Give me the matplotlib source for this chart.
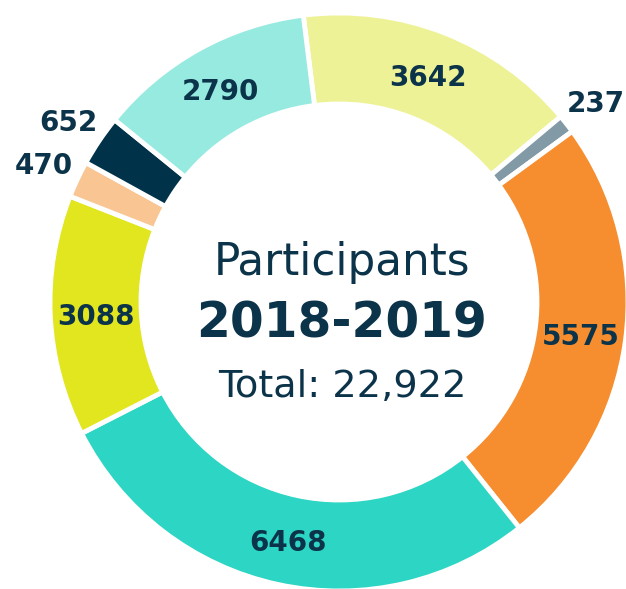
import numpy as np
import matplotlib.pyplot as plt

values = [3642, 237, 5575, 6468, 3088, 470, 652, 2790]
labels = ["3642", "237", "5575", "6468", "3088", "470", "652", "2790"]
colors = ["#EEF296", "#8299A6", "#F68D2E", "#2DD5C4",
          "#E1E61E", "#F9C593", "#003349", "#97EAE0"]
outside = [False, True, False, False, False, True, True, False]
title_lines = ["Participants", "2018-2019", "Total: 22,922"]

navy = "#0B3349"
W, H = 626, 589
cx, cy = 339, H - 302
r_out, r_in = 289, 198
start = 97.1

fig = plt.figure(figsize=(W / 100, H / 100), dpi=100)
ax = fig.add_axes([0, 0, 1, 1])
ax.pie(values, colors=colors, startangle=start, counterclock=False,
       center=(cx, cy), radius=r_out, frame=True,
       wedgeprops=dict(width=r_out - r_in, edgecolor="white", linewidth=3.5))
ax.set_xlim(0, W)
ax.set_ylim(0, H)
ax.set_aspect("equal")
ax.axis("off")

# value labels: inside the ring, small slices outside
total = sum(values)
angle = start
for v, lab, out in zip(values, labels, outside):
    span = v / total * 360
    mid = np.radians(angle - span / 2)
    angle -= span
    r = 326 if out else (r_out + r_in) / 2
    ax.text(cx + r * np.cos(mid), cy + r * np.sin(mid) - 11, lab,
            ha="center", va="baseline", fontsize=20, fontweight="bold",
            color=navy, family="DejaVu Sans")

ax.text(cx + 3, H - 275, title_lines[0], ha="center", va="baseline",
        fontsize=31.5, color=navy, family="DejaVu Sans")
ax.text(cx + 3, H - 338, title_lines[1], ha="center", va="baseline",
        fontsize=35, fontweight="bold", color=navy, family="DejaVu Sans")
ax.text(cx + 3, H - 397, title_lines[2], ha="center", va="baseline",
        fontsize=27.5, color=navy, family="DejaVu Sans")

fig.savefig("out.png", dpi=100)
